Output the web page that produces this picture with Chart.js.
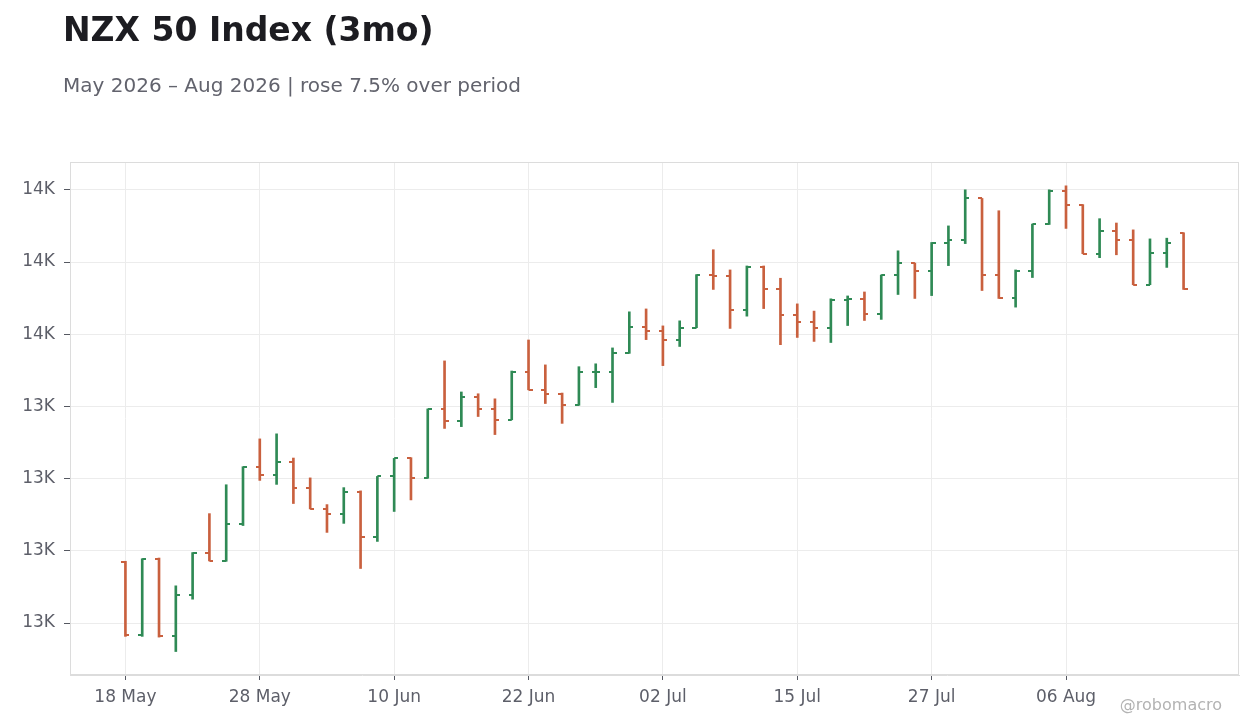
<!DOCTYPE html>
<html>
<head>
<meta charset="utf-8">
<title>NZX 50 Index (3mo)</title>
<script src="https://cdn.jsdelivr.net/npm/chart.js@4.4.1/dist/chart.umd.min.js"></script>
<style>
  html, body { margin: 0; padding: 0; background: #ffffff; }
  body { width: 1260px; height: 728px; position: relative; overflow: hidden; font-family: "DejaVu Sans", sans-serif; }
  #title { position: absolute; left: 63px; top: 13px; font-size: 33px; line-height: 33px; font-weight: bold; color: #1c1c21; white-space: nowrap; }
  #subtitle { position: absolute; left: 63px; top: 75px; font-size: 20px; line-height: 20px; color: #62636d; white-space: nowrap; }
  #credit { position: absolute; right: 38px; top: 697px; font-size: 16px; line-height: 16px; color: #b3b3b3; white-space: nowrap; }
  #wrap { position: absolute; left: 0; top: 0; width: 1260px; height: 728px; }
</style>
</head>
<body>
<div id="wrap"><canvas id="ohlc"></canvas></div>
<div id="title">NZX 50 Index (3mo)</div>
<div id="subtitle">May 2026 – Aug 2026 | rose 7.5% over period</div>
<div id="credit">@robomacro</div>

<script>
// DATA (trading days, NZX calendar)
const days = [
  "18 May", "19 May", "20 May", "21 May", "22 May", "25 May", "26 May", "27 May", "28 May", "29 May",
  "02 Jun", "03 Jun", "04 Jun", "05 Jun", "08 Jun", "09 Jun", "10 Jun", "11 Jun", "12 Jun", "15 Jun",
  "16 Jun", "17 Jun", "18 Jun", "19 Jun", "22 Jun", "23 Jun", "24 Jun", "25 Jun", "26 Jun", "29 Jun",
  "30 Jun", "01 Jul", "02 Jul", "03 Jul", "06 Jul", "07 Jul", "08 Jul", "09 Jul", "13 Jul", "14 Jul",
  "15 Jul", "16 Jul", "17 Jul", "20 Jul", "21 Jul", "22 Jul", "23 Jul", "24 Jul", "27 Jul", "28 Jul",
  "29 Jul", "30 Jul", "31 Jul", "03 Aug", "04 Aug", "05 Aug", "06 Aug", "07 Aug", "10 Aug", "11 Aug",
  "12 Aug", "13 Aug", "14 Aug", "17 Aug"
];

const openPx = [
  12969, 12766, 12976, 12763, 12878, 12993, 12973, 13073, 13231, 13209,
  13247, 13173, 13116, 13103, 13164, 13039, 13206, 13257, 13203, 13393,
  13360, 13427, 13393, 13363, 13496, 13446, 13435, 13403, 13494, 13496,
  13547, 13621, 13610, 13583, 13618, 13763, 13762, 13666, 13787, 13724,
  13652, 13635, 13616, 13696, 13697, 13657, 13763, 13796, 13774, 13852,
  13862, 13976, 13763, 13699, 13776, 13904, 13998, 13959, 13823, 13886,
  13861, 13737, 13826, 13879
];

const highPx = [
  12971, 12978, 12980, 12903, 12995, 13103, 13183, 13233, 13310, 13324,
  13257, 13202, 13128, 13175, 13166, 13206, 13256, 13258, 13393, 13526,
  13440, 13435, 13421, 13498, 13584, 13515, 13437, 13510, 13518, 13562,
  13662, 13670, 13623, 13637, 13765, 13834, 13778, 13789, 13789, 13755,
  13684, 13664, 13698, 13706, 13717, 13764, 13831, 13797, 13854, 13900,
  14000, 13976, 13942, 13778, 13905, 14000, 14011, 13959, 13920, 13908,
  13889, 13864, 13866, 13881
];

const lowPx = [
  12763, 12763, 12761, 12721, 12866, 12972, 12971, 13070, 13195, 13184,
  13131, 13116, 13051, 13076, 12951, 13026, 13109, 13141, 13201, 13339,
  13344, 13372, 13322, 13363, 13446, 13408, 13353, 13403, 13452, 13411,
  13547, 13585, 13513, 13566, 13618, 13724, 13616, 13650, 13671, 13571,
  13591, 13580, 13577, 13624, 13638, 13641, 13710, 13699, 13707, 13790,
  13851, 13721, 13699, 13675, 13757, 13904, 13893, 13823, 13812, 13820,
  13737, 13737, 13785, 13724
];

const closePx = [
  12766, 12976, 12763, 12878, 12993, 12973, 13073, 13231, 13209, 13247,
  13173, 13116, 13103, 13164, 13039, 13206, 13256, 13203, 13393, 13360,
  13427, 13393, 13363, 13496, 13446, 13435, 13403, 13494, 13496, 13547,
  13621, 13610, 13583, 13618, 13763, 13762, 13666, 13787, 13724, 13652,
  13635, 13616, 13696, 13697, 13657, 13763, 13796, 13774, 13852, 13862,
  13976, 13763, 13699, 13776, 13904, 13998, 13959, 13823, 13886, 13861,
  13737, 13826, 13854, 13724
];

const xTickIdx = [0, 8, 16, 24, 32, 40, 48, 56];
const yTicks = [12800, 13000, 13200, 13400, 13600, 13800, 14000];

const UP = "#2f8a55";
const DOWN = "#c9603e";
const TEXT = "#5d5f69";

const isUp = (i) => closePx[i] >= openPx[i];

// small canvases used as point styles for the open (left) and close (right) ticks
function tickImage(color, side) {
  const c = document.createElement("canvas");
  c.width = 8;
  c.height = 2;
  const g = c.getContext("2d");
  g.fillStyle = color;
  if (side === "left") g.fillRect(0, 0, 4, 2);
  else g.fillRect(4, 0, 4, 2);
  return c;
}
const ticks = {
  openUp: tickImage(UP, "left"),
  openDown: tickImage(DOWN, "left"),
  closeUp: tickImage(UP, "right"),
  closeDown: tickImage(DOWN, "right")
};

// PLOT AREA FRAME
const frame = {
  id: "frame",
  beforeDatasetsDraw(chart) {
    const a = chart.chartArea;
    const ctx = chart.ctx;
    ctx.save();
    ctx.strokeStyle = "#dcdcdc";
    ctx.lineWidth = 1;
    ctx.strokeRect(Math.round(a.left) + 0.5, Math.round(a.top) + 0.5,
      Math.round(a.right - a.left) - 1, Math.round(a.bottom - a.top) - 1);
    ctx.restore();
  }
};

const idx = days.map((d, i) => i);

new Chart(document.getElementById("ohlc"), {
  type: "bar",
  data: {
    datasets: [
      {
        type: "bar",
        label: "High-Low",
        data: idx.map((i) => ({ x: i, y: [lowPx[i], highPx[i]] })),
        backgroundColor: idx.map((i) => (isUp(i) ? UP : DOWN)),
        borderWidth: 0,
        barThickness: 2,
        grouped: false,
        order: 2
      },
      {
        type: "line",
        label: "Open",
        data: idx.map((i) => ({ x: i, y: openPx[i] })),
        showLine: false,
        pointStyle: idx.map((i) => (isUp(i) ? ticks.openUp : ticks.openDown)),
        pointRadius: 4,
        pointHoverRadius: 4,
        order: 1
      },
      {
        type: "line",
        label: "Close",
        data: idx.map((i) => ({ x: i, y: closePx[i] })),
        showLine: false,
        pointStyle: idx.map((i) => (isUp(i) ? ticks.closeUp : ticks.closeDown)),
        pointRadius: 4,
        pointHoverRadius: 4,
        order: 1
      }
    ]
  },
  options: {
    responsive: true,
    maintainAspectRatio: false,
    animation: false,
    layout: { padding: { top: 162, right: 21, bottom: 0, left: 0 } },
    plugins: {
      legend: { display: false },
      tooltip: { enabled: false }
    },
    scales: {
      x: {
        type: "linear",
        min: -3.3,
        max: 66.3,
        offset: false,
        afterBuildTicks: (s) => { s.ticks = xTickIdx.map((v) => ({ value: v })); },
        afterFit: (s) => { s.height = 53; },
        grid: { color: "#ececec", offset: false, tickLength: 5, tickColor: "#555861" },
        border: { color: "#dcdcdc" },
        ticks: {
          autoSkip: false,
          maxRotation: 0,
          padding: 7,
          color: TEXT,
          font: { family: "DejaVu Sans", size: 17 },
          callback: (v) => days[v]
        }
      },
      y: {
        min: 12656,
        max: 14077,
        afterBuildTicks: (s) => { s.ticks = yTicks.map((v) => ({ value: v })); },
        afterFit: (s) => { s.width = 70; },
        grid: { color: "#ececec", tickLength: 6, tickColor: "#555861" },
        border: { color: "#dcdcdc" },
        ticks: {
          padding: 9,
          color: TEXT,
          font: { family: "DejaVu Sans", size: 17 },
          callback: (v) => Math.round(v / 1000) + "K"
        }
      }
    }
  },
  plugins: [frame]
});
</script>
</body>
</html>
